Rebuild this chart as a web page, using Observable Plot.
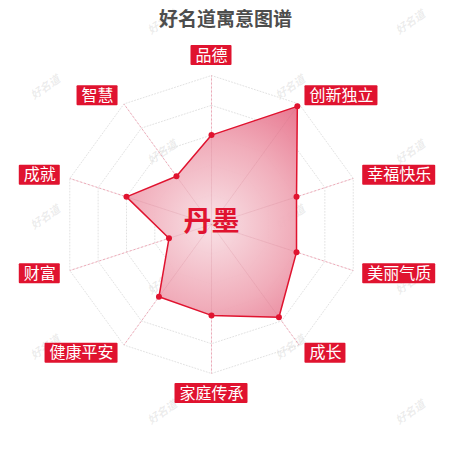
<!DOCTYPE html>
<html><head><meta charset="utf-8">
<script src="https://cdn.jsdelivr.net/npm/d3@7"></script>
<script src="https://cdn.jsdelivr.net/npm/@observablehq/plot@0.6"></script>
<style>body{margin:0;background:#fff}#chart svg{display:block}</style>
</head><body><div id="chart"></div>
<script>
const title = "好名道寓意图谱";
const nameText = "丹墨";
const dimensions = ["品德","创新独立","幸福快乐","美丽气质","成长","家庭传承","健康平安","财富","成就","智慧"];
const scores = [60, 98, 60, 60, 77, 61, 60, 30, 60, 40];
const maxScore = 100;
const levels = [20, 40, 60, 80, 100];
const watermarkText = "好名道";

const W = 450, H = 450, CX = 211, CY = 224, R = 149;
const u = 1 / R; // data units per pixel
const RED = "#e0132f";
const angle = i => i * 2 * Math.PI / dimensions.length;
const pt = (i, v) => ({x: Math.sin(angle(i)) * v / maxScore, y: Math.cos(angle(i)) * v / maxScore});

const poly = scores.map((v, i) => ({...pt(i, v), name: dimensions[i], value: v}));
const rings = levels.flatMap(l => dimensions.map((d, i) => ({...pt(i, l), level: l})));
const spokes = dimensions.map((d, i) => {
  const e = pt(i, maxScore);
  return {x1: 0, y1: 0, x2: e.x, y2: e.y};
});
const labels = dimensions.map((d, i) => {
  const a = angle(i), r = 1 + 10 * u;
  const ax = Math.sin(a) * r, ay = Math.cos(a) * r;
  const w = (d.length * 16 + 9) * u, h = 20 * u;
  const s = Math.sin(a);
  let cx = ax, cy = ay;
  if (Math.abs(s) < 1e-6) cy = ay + (Math.cos(a) > 0 ? h / 2 : -h / 2);
  else cx = ax + Math.sign(s) * w / 2;
  return {name: d, cx, cy, x1: cx - w / 2, x2: cx + w / 2, y1: cy - h / 2, y2: cy + h / 2};
});
// faint repeating watermark lattice (pixel grid converted to data units)
const wm = [];
for (let k = 0; k < 7; k++) {
  const cols = k % 2 === 0 ? [162, 410] : [45, 290];
  for (const c of cols) wm.push({x: (c - CX) * u, y: (CY - (22 + k * 65)) * u});
}

function gradientDefs(index, scales) {
  const g = d3.create("svg:g");
  const rg = g.append("defs").append("radialGradient")
    .attr("id", "fillGrad").attr("gradientUnits", "userSpaceOnUse")
    .attr("cx", scales.x(0)).attr("cy", scales.y(0)).attr("r", scales.x(1) - scales.x(0));
  rg.append("stop").attr("offset", "0%").attr("stop-color", "#f8e0e5");
  rg.append("stop").attr("offset", "55%").attr("stop-color", "#f0a9b7");
  rg.append("stop").attr("offset", "100%").attr("stop-color", "#e66e88");
  return g.node();
}

const chart = Plot.plot({
  width: W, height: H,
  marginTop: 0, marginRight: 0, marginBottom: 0, marginLeft: 0,
  x: {domain: [-1, 1], range: [CX - R, CX + R], axis: null},
  y: {domain: [-1, 1], range: [CY + R, CY - R], axis: null},
  style: {fontFamily: "'Noto Sans CJK SC', 'Noto Sans', sans-serif", background: "#fff"},
  marks: [
    gradientDefs,
    Plot.text(wm, {x: "x", y: "y", text: () => watermarkText, rotate: -35, fontSize: 11, fontWeight: "bold", fontStyle: "italic", fill: "#888", fillOpacity: 0.16}),
    Plot.line(rings, {x: "x", y: "y", z: "level", curve: "linear-closed", stroke: "#e2e2e2", strokeWidth: 1, strokeDasharray: "1,2"}),
    Plot.link(spokes, {x1: "x1", y1: "y1", x2: "x2", y2: "y2", stroke: "#f4b5c2", strokeWidth: 1, strokeDasharray: "2,2"}),
    Plot.line(poly, {x: "x", y: "y", curve: "linear-closed", fill: "url(#fillGrad)", fillOpacity: 0.95, stroke: RED, strokeWidth: 1.5}),
    Plot.link(spokes, {x1: "x1", y1: "y1", x2: "x2", y2: "y2", stroke: "#c77a8a", strokeWidth: 0.6, strokeOpacity: 0.3}),
    Plot.dot(poly, {x: "x", y: "y", r: 3, fill: RED}),
    Plot.text([nameText], {x: () => 0, y: () => 0, text: d => d, dy: -2, fontSize: 28, fontWeight: "bold", fill: RED}),
    Plot.rect(labels, {x1: "x1", x2: "x2", y1: "y1", y2: "y2", fill: RED, rx: 1}),
    Plot.text(labels, {x: "cx", y: "cy", text: "name", fill: "white", fontSize: 16}),
    Plot.text([title], {frameAnchor: "top", dy: 12, text: d => d, fontSize: 19, fontWeight: "bold", fill: "#4d4d4d"})
  ]
});
document.getElementById("chart").appendChild(chart);
</script>
</body></html>
